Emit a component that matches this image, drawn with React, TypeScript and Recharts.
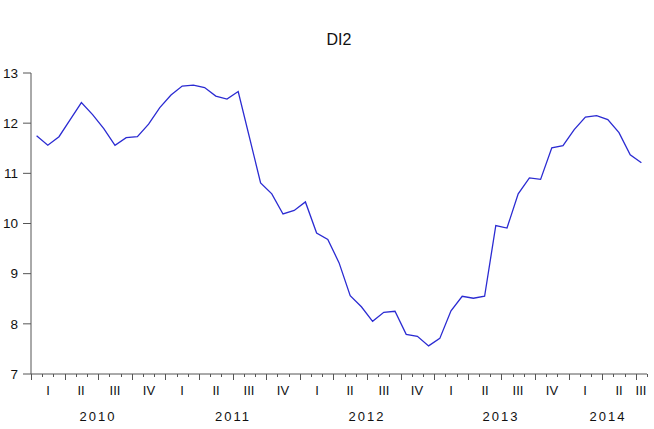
import { LineChart, Line, XAxis, YAxis } from 'recharts';

// monthly DI2, Jan 2010 - Jul 2014
const values = [
  11.75, 11.56, 11.73, 12.07, 12.41, 12.17, 11.89, 11.56, 11.71, 11.73, 11.98, 12.31,
  12.56, 12.74, 12.76, 12.71, 12.54, 12.48, 12.63, 11.72, 10.81, 10.59, 10.19, 10.26,
  10.43, 9.81, 9.68, 9.22, 8.56, 8.34, 8.05, 8.23, 8.25, 7.79, 7.75, 7.56,
  7.71, 8.26, 8.55, 8.51, 8.55, 9.96, 9.91, 10.59, 10.91, 10.88, 11.51, 11.55,
  11.87, 12.12, 12.15, 12.07, 11.81, 11.37, 11.21,
];
const years = ['2010', '2011', '2012', '2013', '2014'];
const quarters = ['I', 'II', 'III', 'IV'];
const yTicks = [7, 8, 9, 10, 11, 12, 13];

const data = values.map((v, i) => ({ t: i, v }));
const n = values.length;

// tick values: month boundaries, quarter centres, year centres
const boundaries = Array.from({ length: n + 1 }, (_, i) => i - 0.5);
const quarterCenters: { pos: number; label: string }[] = [];
for (let q = 0; q * 3 < n; q++) {
  const start = q * 3;
  const end = Math.min(start + 2, n - 1);
  quarterCenters.push({ pos: (start + end) / 2, label: quarters[q % 4] });
}
const yearCenters = years.map((y, k) => {
  const start = k * 12;
  const end = Math.min(start + 11, n - 1);
  return { pos: (start + end) / 2, label: y };
});
const allTicks = Array.from(
  new Set([...boundaries, ...quarterCenters.map((q) => q.pos), ...yearCenters.map((y) => y.pos)])
).sort((a, b) => a - b);

const font = 'Liberation Sans, Arial, sans-serif';

function MonthTick(props: any) {
  const { x, y, payload } = props;
  const v = payload.value;
  const tx = Math.round(x);
  const parts: any[] = [];
  if (boundaries.includes(v)) {
    const isQ = Math.round(v + 0.5) % 3 === 0;
    parts.push(<line key="l" x1={tx + 0.5} x2={tx + 0.5} y1={y} y2={y + (isQ ? 6 : 3)} stroke="#555" strokeWidth={1} />);
  }
  const q = quarterCenters.find((c) => c.pos === v);
  if (q) {
    parts.push(
      <text key="q" x={tx} y={y + 21} textAnchor="middle" fontSize={13} fontFamily={font} fill="#111">
        {q.label}
      </text>
    );
  }
  const yr = yearCenters.find((c) => c.pos === v);
  if (yr) {
    parts.push(
      <text key="y" x={tx} y={y + 47} textAnchor="middle" fontSize={13} letterSpacing={2} fontFamily={font} fill="#111">
        {yr.label}
      </text>
    );
  }
  return <g>{parts}</g>;
}

export default function App() {
  return (
    <div style={{ position: 'absolute', left: 0, top: 0, width: 654, height: 429, background: '#fff' }}>
      <div
        style={{
          position: 'absolute',
          left: 31,
          width: 616,
          top: 31,
          textAlign: 'center',
          fontFamily: font,
          fontSize: 16,
          color: '#111',
        }}
      >
        DI2
      </div>
      <LineChart width={654} height={429} data={data} margin={{ top: 73, right: 7, bottom: 0, left: 0 }}>
        <XAxis
          xAxisId="b"
          dataKey="t"
          type="number"
          domain={[-0.5, n - 0.5]}
          ticks={allTicks}
          interval={0}
          tick={<MonthTick />}
          tickLine={false}
          tickSize={0}
          tickMargin={0}
          height={55}
          stroke="#555"
        />
        <XAxis
          xAxisId="t"
          orientation="top"
          dataKey="t"
          type="number"
          domain={[-0.5, n - 0.5]}
          tick={false}
          tickLine={false}
          height={0}
          stroke="#555"
        />
        <YAxis
          yAxisId="l"
          domain={[7, 13]}
          ticks={yTicks}
          interval={0}
          width={31}
          tickSize={8}
          tickMargin={5}
          stroke="#555"
          tick={{ fontSize: 13.5, fontFamily: font, fill: '#111' }}
        />
        <YAxis yAxisId="r" orientation="right" domain={[7, 13]} tick={false} tickLine={false} width={0} stroke="#555" />
        <Line
          xAxisId="b"
          yAxisId="l"
          type="linear"
          dataKey="v"
          stroke="#2B2BD2"
          strokeWidth={1.3}
          dot={false}
          isAnimationActive={false}
        />
      </LineChart>
    </div>
  );
}
